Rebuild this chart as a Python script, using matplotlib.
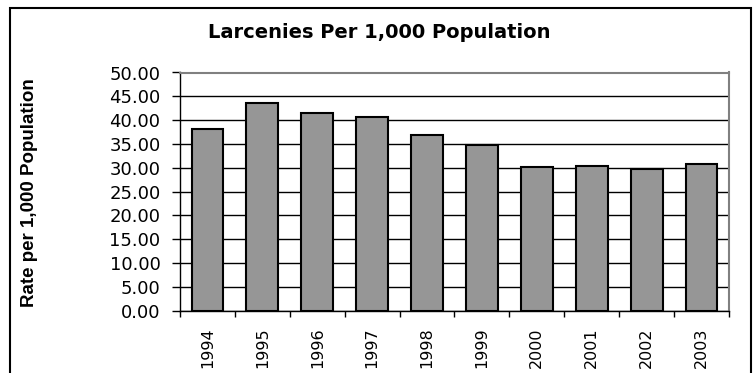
import numpy as np
from matplotlib import pyplot as plt
from matplotlib.patches import Rectangle

# dane
years = ["1994", "1995", "1996", "1997", "1998", "1999", "2000", "2001", "2002", "2003"]
rates = [38.1, 43.5, 41.4, 40.6, 36.9, 34.7, 30.1, 30.4, 29.7, 30.7]
y_ticks = [0, 5, 10, 15, 20, 25, 30, 35, 40, 45, 50]

plt.rcParams['font.family'] = ['DejaVu Sans']

fig = plt.figure(figsize=(7.56, 3.73), dpi=100)
ax = fig.add_axes([180 / 756, 1 - 310.7 / 373, 549 / 756, 238.2 / 373])

x = np.arange(len(years))
ax.bar(x, rates, width=0.58, color="#969696", edgecolor="black", linewidth=1.5, zorder=3)

ax.set_xlim(-0.5, len(years) - 0.5)
ax.set_ylim(0, 50)
ax.set_yticks(y_ticks)
ax.set_yticklabels([f"{v:.2f}" for v in y_ticks], fontsize=13)
ax.set_xticks(x)
ax.set_xticklabels(years, rotation=90, fontsize=11.5)
ax.set_xticks(np.arange(len(years) + 1) - 0.5, minor=True)
ax.tick_params(axis="x", which="major", length=0, pad=12)
ax.tick_params(axis="x", which="minor", length=4, width=1, direction="out")
ax.tick_params(axis="y", length=6, width=1, direction="out", pad=8)

# linie siatki
ax.yaxis.grid(True, color="black", linewidth=1, zorder=0)
ax.set_axisbelow(True)
for s in ["top", "right"]:
    ax.spines[s].set_color("#808080")
    ax.spines[s].set_linewidth(1.5)
for s in ["left", "bottom"]:
    ax.spines[s].set_color("black")
    ax.spines[s].set_linewidth(1)

fig.text(379 / 756, 1 - 37.7 / 373, "Larcenies Per 1,000 Population", ha="center", va="baseline",
         fontsize=14, fontweight="bold")
fig.text(30 / 756, 1 - 193 / 373, "Rate per 1,000 Population", ha="center", va="center",
         rotation=90, fontsize=13.5, fontweight="bold", family=["Liberation Sans"])

# ramka wokół wykresu
fig.patches.append(Rectangle((10 / 756, -0.05), 741 / 756, 1.05 - 8 / 373, transform=fig.transFigure,
                             fill=False, edgecolor="black", linewidth=1.5))

plt.savefig("out.png", dpi=100)
plt.close()
